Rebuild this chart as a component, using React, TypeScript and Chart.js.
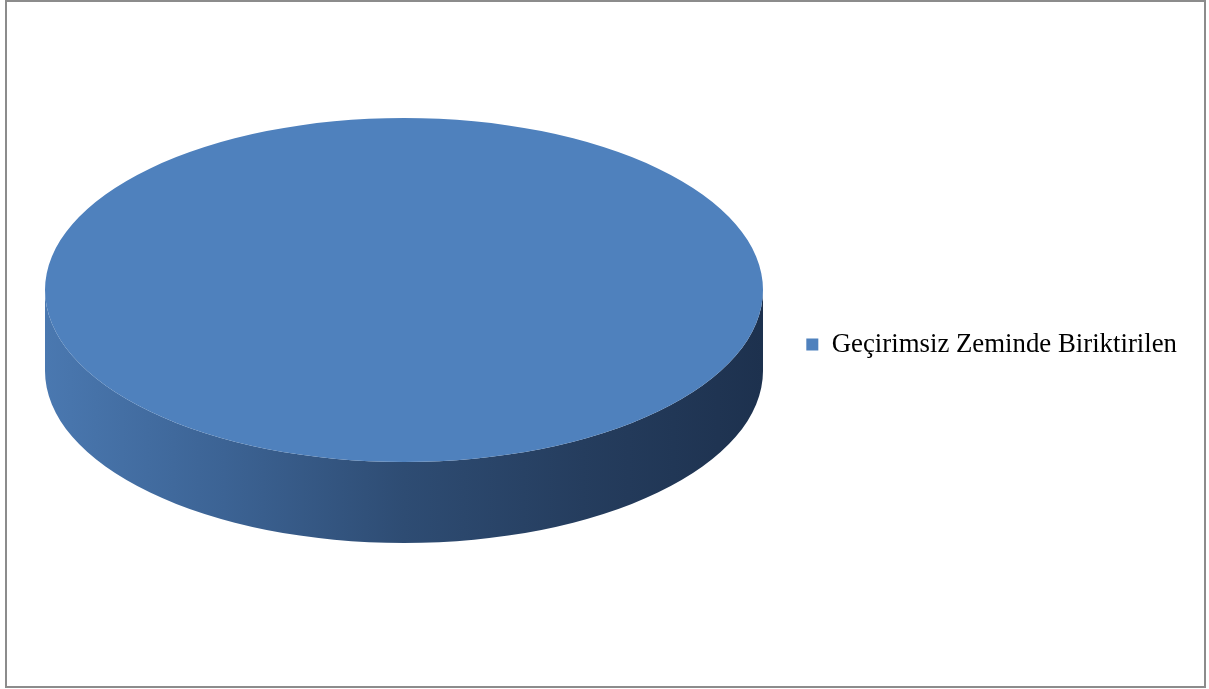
import React, { useEffect, useRef } from "react";
import { Chart, registerables } from "chart.js";

Chart.register(...registerables);

const categories = ["Geçirimsiz Zeminde Biriktirilen"];
const values = [100];
const sliceColors = ["#4f81bd"];

// 3D look (presentation only)
const ELLIPSE = { cx: 404, cy: 290, rx: 359, ry: 172, depth: 81 };

const pie3dPlugin = {
  id: "pie3d",
  beforeDatasetsDraw(chart: any) {
    const meta = chart.getDatasetMeta(0);
    const arc = meta.data[0];
    if (!arc) return;
    const { x, y, outerRadius } = arc.getProps(["x", "y", "outerRadius"], true);
    const ctx = chart.ctx as CanvasRenderingContext2D;
    const { cx, cy, rx, ry, depth } = ELLIPSE;
    ctx.save();
    // side band
    const g = ctx.createLinearGradient(cx - rx, 0, cx + rx, 0);
    g.addColorStop(0, "#4a78b0");
    g.addColorStop(0.25, "#3c6394");
    g.addColorStop(0.5, "#2e4c73");
    g.addColorStop(0.75, "#253d5e");
    g.addColorStop(1, "#1d314e");
    ctx.beginPath();
    ctx.moveTo(cx + rx, cy);
    ctx.lineTo(cx + rx, cy + depth);
    ctx.ellipse(cx, cy + depth, rx, ry, 0, 0, Math.PI, false);
    ctx.lineTo(cx - rx, cy);
    ctx.ellipse(cx, cy, rx, ry, 0, Math.PI, 0, true);
    ctx.closePath();
    ctx.fillStyle = g;
    ctx.fill();
    // squash the pie into the top face
    ctx.translate(cx, cy);
    ctx.scale(rx / outerRadius, ry / outerRadius);
    ctx.translate(-x, -y);
  },
  afterDatasetsDraw(chart: any) {
    chart.ctx.restore();
  },
};

export default function App() {
  const ref = useRef<HTMLCanvasElement | null>(null);
  useEffect(() => {
    if (!ref.current) return;
    const chart = new Chart(ref.current, {
      type: "pie",
      data: {
        labels: categories,
        datasets: [
          {
            data: values,
            backgroundColor: sliceColors,
            borderWidth: 0,
          },
        ],
      },
      options: {
        responsive: false,
        animation: false,
        layout: { padding: { right: 22, top: 0, bottom: 0, left: 0 } },
        plugins: {
          legend: {
            position: "right",
            labels: {
              boxWidth: 12,
              boxHeight: 12,
              color: "#000",
              font: { family: "'Liberation Serif', 'Times New Roman', serif", size: 26.8 },
              padding: 10,
            },
          },
          tooltip: { enabled: false },
        },
      },
      plugins: [pie3dPlugin],
    });
    return () => chart.destroy();
  }, []);
  return (
    <div style={{ position: "fixed", left: 0, top: 0, width: 1209, height: 689, background: "#fff" }}>
      <div
        style={{
          position: "absolute",
          left: 5,
          top: 0,
          width: 1201,
          height: 688,
          boxSizing: "border-box",
          border: "2px solid #8c8c8c",
        }}
      />
      <canvas ref={ref} width={1209} height={689} style={{ position: "absolute", left: 0, top: 0 }} />
    </div>
  );
}
